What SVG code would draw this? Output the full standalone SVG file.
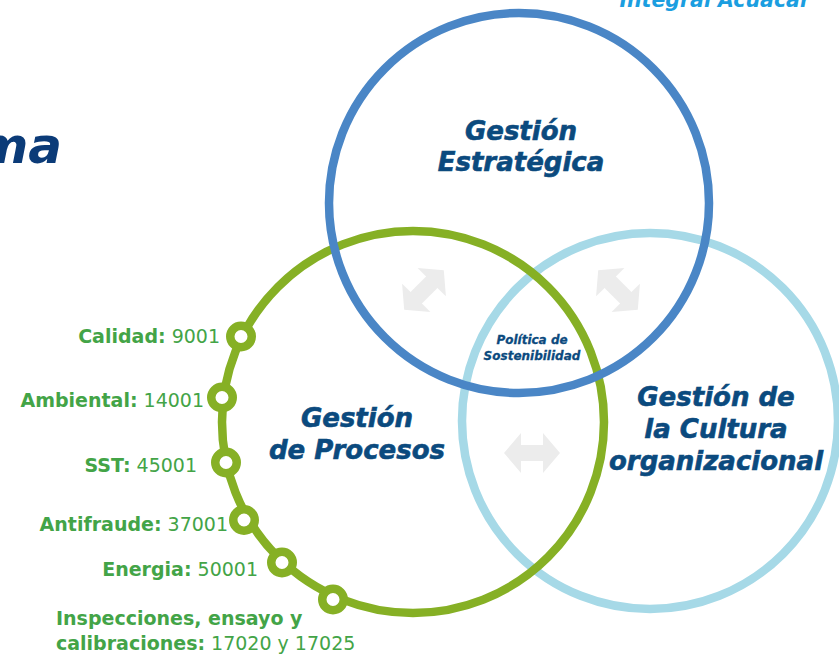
<svg xmlns="http://www.w3.org/2000/svg" width="839" height="658" viewBox="0 0 839 658">
<defs>
<style>
.ring{fill:none;stroke-width:8.5}
.title{font-family:"DejaVu Sans","Liberation Sans",sans-serif;font-weight:bold;font-style:italic;fill:#0b4a7e;stroke:#0b4a7e;stroke-width:0.6;text-anchor:middle}
.lbl{font-family:"DejaVu Sans","Liberation Sans",sans-serif;font-size:19px;fill:#43a447;text-anchor:end}
.lbl .b{font-weight:bold}
.dot{fill:#fff;stroke:#86b025;stroke-width:8.5}
.arr{fill:#ececec}
</style>
<path id="dblarrow" d="M-28,0 L-11,-20 L-11,-8 L11,-8 L11,-20 L28,0 L11,20 L11,8 L-11,8 L-11,20 Z"/>
</defs>
<rect width="839" height="658" fill="#fff"/>

<text x="62" y="163" font-family="DejaVu Sans, Liberation Sans, sans-serif" font-weight="bold" font-style="italic" font-size="50" fill="#0b3b78" text-anchor="end">ma</text>
<text x="810" y="7" font-family="DejaVu Sans, Liberation Sans, sans-serif" font-weight="bold" font-style="italic" font-size="20.5" fill="#1b9ee0" text-anchor="end">Integral Acuacar</text>

<g id="connectors">
<use href="#dblarrow" class="arr" transform="translate(424,290) rotate(-45)"/>
<use href="#dblarrow" class="arr" transform="translate(618,290) rotate(45)"/>
<use href="#dblarrow" class="arr" transform="translate(532,453)"/>
</g>

<g id="cultura">
<circle class="ring" cx="650" cy="421" r="188" stroke="#a6d9e7"/>
<text class="title" font-size="26"><tspan x="716" y="406">Gestión de</tspan><tspan x="716" y="438">la Cultura</tspan><tspan x="716" y="470">organizacional</tspan></text>
</g>

<g id="procesos">
<circle class="ring" cx="413" cy="422" r="191" stroke="#86b025"/>
<text class="title" font-size="26"><tspan x="357" y="427">Gestión</tspan><tspan x="357" y="459">de Procesos</tspan></text>
</g>

<g id="estrategica">
<circle class="ring" cx="519" cy="203" r="190" stroke="#4a86c6"/>
<text class="title" font-size="26"><tspan x="521" y="140">Gestión</tspan><tspan x="521" y="171">Estratégica</tspan></text>
</g>

<g id="politica">
<text class="title" font-size="12" style="stroke-width:0.3"><tspan x="532" y="344">Política de</tspan><tspan x="532" y="360">Sostenibilidad</tspan></text>
</g>

<g id="calidad">
<circle class="dot" cx="241" cy="336.5" r="10.75"/>
<text class="lbl" x="220" y="343"><tspan class="b">Calidad:</tspan> 9001</text>
</g>
<g id="ambiental">
<circle class="dot" cx="222" cy="397.5" r="10.75"/>
<text class="lbl" x="204" y="407"><tspan class="b">Ambiental:</tspan> 14001</text>
</g>
<g id="sst">
<circle class="dot" cx="226" cy="462.5" r="10.75"/>
<text class="lbl" x="197" y="472"><tspan class="b">SST:</tspan> 45001</text>
</g>
<g id="antifraude">
<circle class="dot" cx="244" cy="520" r="10.75"/>
<text class="lbl" x="228" y="531"><tspan class="b">Antifraude:</tspan> 37001</text>
</g>
<g id="energia">
<circle class="dot" cx="282" cy="562.5" r="10.75"/>
<text class="lbl" x="258" y="576"><tspan class="b">Energia:</tspan> 50001</text>
</g>
<g id="inspecciones">
<circle class="dot" cx="333" cy="599.5" r="10.75"/>
<text class="lbl" style="text-anchor:start"><tspan x="56" y="625" class="b">Inspecciones, ensayo y</tspan><tspan x="56" y="650"><tspan class="b">calibraciones:</tspan> 17020 y 17025</tspan></text>
</g>
</svg>
